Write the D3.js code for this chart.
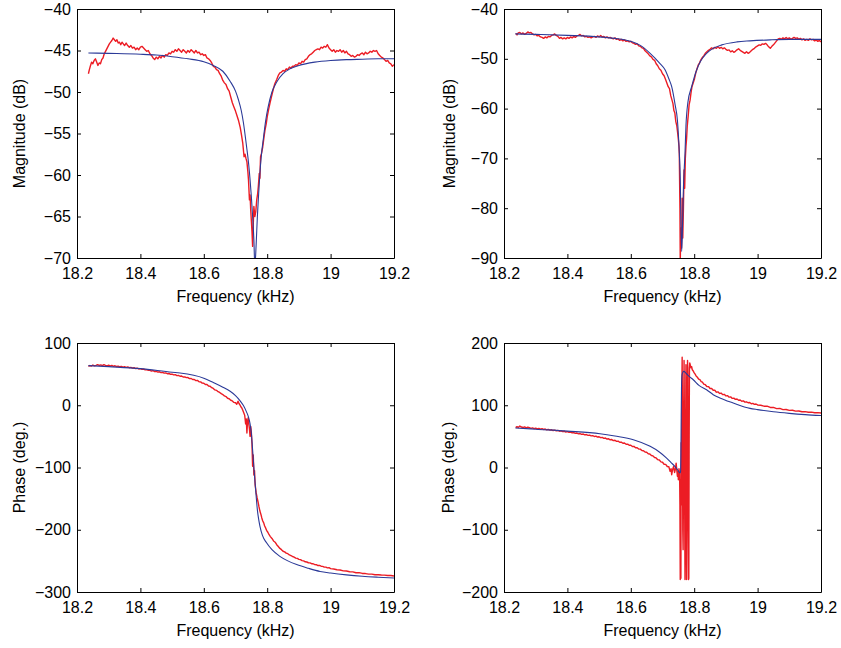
<!DOCTYPE html>
<html><head><meta charset="utf-8">
<script src="https://cdn.jsdelivr.net/npm/d3@7"></script>
<style>
body{margin:0;background:#fff}
svg text{font-family:"Liberation Sans",Arial,Helvetica,sans-serif;fill:#000}
</style>
</head><body>
<svg id="chart" width="841" height="648"></svg>
<script>
// ---------- data ----------
const freqTicks=[18.2,18.4,18.6,18.8,19,19.2];
const freqTickLabels=["18.2","18.4","18.6","18.8","19","19.2"];
const magTicksA=[-70,-65,-60,-55,-50,-45,-40];
const magTicksB=[-90,-80,-70,-60,-50,-40];
const phaseTicksA=[-300,-200,-100,0,100];
const phaseTicksB=[-200,-100,0,100,200];
const xLabel="Frequency (kHz)";
const magLabel="Magnitude (dB)";
const phaseLabel="Phase (deg.)";

// top-left: magnitude, measured (red) and fit (blue)
const mag1Measured=[[18.236,-47.8],[18.239,-47.3],[18.242,-46.9],[18.246,-46.4],[18.250,-46.6],[18.254,-46.2],[18.258,-46.0],[18.262,-46.4],[18.266,-46.8],[18.270,-46.5],[18.274,-46.6],[18.278,-46.1],[18.282,-45.9],[18.286,-45.4],[18.290,-45.1],[18.294,-44.8],[18.298,-44.5],[18.302,-44.2],[18.306,-44.0],[18.310,-43.8],[18.314,-43.5],[18.318,-43.7],[18.322,-43.9],[18.326,-43.7],[18.330,-44.1],[18.334,-44.0],[18.338,-44.3],[18.342,-44.0],[18.346,-44.2],[18.350,-44.4],[18.355,-44.1],[18.360,-44.4],[18.365,-44.6],[18.370,-44.4],[18.375,-44.7],[18.380,-44.6],[18.385,-44.9],[18.390,-44.7],[18.395,-44.9],[18.400,-44.6],[18.405,-44.5],[18.410,-44.7],[18.415,-44.9],[18.420,-45.1],[18.425,-45.0],[18.430,-45.4],[18.435,-45.6],[18.440,-45.9],[18.445,-46.1],[18.450,-45.8],[18.455,-46.0],[18.460,-45.7],[18.465,-45.9],[18.470,-45.6],[18.475,-45.8],[18.480,-45.5],[18.485,-45.6],[18.490,-45.3],[18.495,-45.4],[18.500,-45.1],[18.505,-45.2],[18.510,-44.9],[18.515,-45.1],[18.520,-44.8],[18.525,-45.0],[18.530,-45.2],[18.535,-44.9],[18.540,-45.1],[18.545,-45.3],[18.550,-45.0],[18.555,-45.2],[18.560,-44.9],[18.565,-45.1],[18.570,-45.3],[18.575,-45.0],[18.580,-45.3],[18.585,-45.2],[18.590,-45.5],[18.595,-45.4],[18.600,-45.6],[18.605,-45.5],[18.610,-45.9],[18.615,-46.0],[18.620,-46.2],[18.625,-46.5],[18.630,-46.9],[18.635,-47.0],[18.640,-47.3],[18.645,-47.4],[18.650,-47.8],[18.655,-48.1],[18.660,-48.6],[18.665,-48.9],[18.670,-49.1],[18.675,-49.6],[18.680,-49.9],[18.685,-50.6],[18.690,-51.3],[18.695,-51.8],[18.700,-52.3],[18.705,-52.9],[18.710,-53.5],[18.715,-54.3],[18.719,-55.2],[18.723,-56.2],[18.727,-57.8],[18.730,-57.5],[18.733,-58.0],[18.736,-58.4],[18.739,-59.6],[18.741,-60.6],[18.744,-63.0],[18.746,-62.4],[18.748,-64.2],[18.750,-65.5],[18.752,-66.8],[18.754,-68.6],[18.756,-66.0],[18.758,-63.8],[18.761,-65.0],[18.764,-64.4],[18.767,-63.0],[18.770,-62.2],[18.772,-61.4],[18.775,-59.8],[18.777,-60.4],[18.779,-57.8],[18.782,-57.4],[18.786,-56.6],[18.790,-55.4],[18.793,-54.6],[18.797,-53.8],[18.800,-53.0],[18.805,-52.0],[18.809,-51.3],[18.814,-50.5],[18.819,-49.7],[18.824,-49.0],[18.830,-48.5],[18.835,-48.0],[18.840,-47.7],[18.845,-47.6],[18.850,-47.4],[18.855,-47.5],[18.860,-47.2],[18.865,-47.3],[18.870,-47.0],[18.875,-47.1],[18.880,-46.9],[18.885,-46.9],[18.890,-46.7],[18.895,-46.8],[18.900,-46.5],[18.905,-46.6],[18.910,-46.3],[18.915,-46.4],[18.920,-46.1],[18.925,-46.0],[18.930,-45.7],[18.935,-45.5],[18.940,-45.4],[18.945,-45.2],[18.950,-45.0],[18.955,-44.9],[18.960,-44.8],[18.965,-44.9],[18.970,-44.6],[18.975,-44.7],[18.980,-44.5],[18.985,-44.6],[18.990,-44.3],[18.995,-44.7],[19.000,-44.9],[19.005,-45.1],[19.010,-44.9],[19.015,-45.2],[19.020,-45.0],[19.025,-45.1],[19.030,-44.9],[19.035,-45.2],[19.040,-45.0],[19.045,-45.3],[19.050,-45.1],[19.055,-45.4],[19.060,-45.5],[19.065,-45.7],[19.070,-45.6],[19.075,-45.8],[19.080,-45.7],[19.085,-45.5],[19.090,-45.6],[19.095,-45.4],[19.100,-45.3],[19.105,-45.5],[19.110,-45.2],[19.115,-45.4],[19.120,-45.3],[19.125,-45.1],[19.130,-45.2],[19.135,-45.0],[19.140,-45.1],[19.145,-45.0],[19.150,-45.4],[19.155,-45.6],[19.160,-45.8],[19.165,-45.9],[19.170,-46.1],[19.175,-46.3],[19.180,-46.2],[19.185,-46.5],[19.190,-46.6],[19.195,-46.9],[19.200,-46.7]];
const mag1Fit=[[18.236,-45.3],[18.3,-45.35],[18.4,-45.45],[18.45,-45.55],[18.5,-45.75],[18.55,-46.0],[18.6,-46.35],[18.63,-46.8],[18.66,-47.5],[18.683,-48.7],[18.70,-49.9],[18.709,-50.9],[18.718,-52.2],[18.725,-53.7],[18.735,-56.6],[18.741,-58.5],[18.746,-60.6],[18.750,-62.6],[18.754,-65.0],[18.758,-67.8],[18.761,-71.0],[18.765,-68.5],[18.769,-65.0],[18.773,-62.3],[18.777,-59.8],[18.782,-57.5],[18.788,-55.6],[18.795,-53.5],[18.803,-51.8],[18.815,-50.0],[18.830,-48.8],[18.850,-47.8],[18.872,-47.2],[18.9,-46.8],[18.95,-46.4],[19.0,-46.2],[19.05,-46.1],[19.1,-46.05],[19.15,-46.0],[19.2,-46.0]];

// top-right: magnitude
const mag2Measured=[[18.237,-44.9],[18.241,-45.2],[18.245,-44.8],[18.250,-44.7],[18.255,-45.0],[18.260,-44.8],[18.265,-45.1],[18.270,-44.9],[18.275,-44.6],[18.280,-44.8],[18.285,-44.7],[18.290,-45.0],[18.295,-45.2],[18.300,-45.1],[18.305,-45.4],[18.310,-45.3],[18.315,-45.6],[18.320,-45.7],[18.325,-45.9],[18.330,-45.6],[18.335,-45.8],[18.340,-45.5],[18.345,-45.6],[18.350,-45.3],[18.355,-45.2],[18.360,-45.0],[18.365,-45.3],[18.370,-45.5],[18.375,-45.9],[18.380,-45.7],[18.385,-46.0],[18.390,-45.8],[18.395,-46.0],[18.400,-45.7],[18.405,-45.9],[18.410,-45.6],[18.415,-45.8],[18.420,-45.5],[18.425,-45.7],[18.430,-45.4],[18.435,-45.3],[18.440,-45.1],[18.445,-45.4],[18.450,-45.3],[18.455,-45.6],[18.460,-45.5],[18.465,-45.7],[18.470,-45.6],[18.475,-45.8],[18.480,-45.6],[18.485,-45.5],[18.490,-45.7],[18.495,-45.4],[18.500,-45.6],[18.505,-45.3],[18.510,-45.6],[18.515,-45.5],[18.520,-45.8],[18.525,-45.6],[18.530,-45.8],[18.535,-45.7],[18.540,-45.9],[18.545,-46.0],[18.550,-45.8],[18.555,-46.1],[18.560,-46.0],[18.565,-46.3],[18.570,-46.1],[18.575,-46.4],[18.580,-46.2],[18.585,-46.5],[18.590,-46.4],[18.595,-46.6],[18.600,-46.5],[18.605,-46.8],[18.610,-46.9],[18.615,-47.1],[18.620,-47.0],[18.625,-47.4],[18.630,-47.5],[18.635,-47.8],[18.640,-47.9],[18.645,-48.4],[18.650,-48.7],[18.655,-49.0],[18.660,-49.4],[18.665,-49.6],[18.670,-50.1],[18.675,-50.3],[18.680,-51.0],[18.685,-51.4],[18.690,-52.0],[18.695,-52.3],[18.700,-53.0],[18.705,-53.4],[18.710,-54.2],[18.714,-54.9],[18.718,-55.6],[18.722,-56.0],[18.726,-57.4],[18.730,-58.3],[18.733,-59.0],[18.736,-60.4],[18.739,-60.9],[18.742,-62.6],[18.745,-63.4],[18.748,-65.0],[18.750,-66.2],[18.752,-67.6],[18.753,-69],[18.755,-80],[18.756,-90.5],[18.758,-84],[18.760,-88],[18.762,-78],[18.764,-86],[18.766,-80],[18.768,-72.3],[18.770,-76],[18.772,-70],[18.774,-67.6],[18.776,-66],[18.778,-63.6],[18.781,-61.5],[18.784,-59.2],[18.787,-58.3],[18.790,-56.8],[18.793,-55.6],[18.797,-54.8],[18.801,-54.0],[18.805,-52.8],[18.809,-52.0],[18.813,-51.2],[18.817,-50.8],[18.821,-50.2],[18.825,-49.8],[18.830,-49.4],[18.835,-48.9],[18.840,-48.6],[18.845,-48.3],[18.850,-48.1],[18.855,-47.8],[18.860,-48.0],[18.865,-47.7],[18.870,-47.9],[18.875,-47.6],[18.880,-47.9],[18.885,-47.7],[18.890,-48.0],[18.895,-47.8],[18.900,-48.1],[18.905,-48.3],[18.910,-48.2],[18.915,-48.6],[18.920,-48.4],[18.925,-48.7],[18.930,-48.5],[18.935,-48.2],[18.940,-48.0],[18.945,-48.3],[18.950,-48.5],[18.955,-48.7],[18.960,-48.9],[18.965,-48.6],[18.970,-48.9],[18.975,-48.7],[18.980,-48.4],[18.985,-48.1],[18.990,-47.9],[18.995,-47.6],[19.000,-47.4],[19.005,-47.2],[19.010,-47.3],[19.015,-47.0],[19.020,-47.1],[19.025,-46.9],[19.030,-47.2],[19.035,-47.6],[19.040,-47.9],[19.045,-47.5],[19.050,-47.2],[19.055,-46.8],[19.060,-46.4],[19.065,-46.0],[19.070,-45.9],[19.075,-46.1],[19.080,-45.8],[19.085,-46.0],[19.090,-45.7],[19.095,-46.0],[19.100,-45.8],[19.105,-46.1],[19.110,-45.9],[19.115,-45.7],[19.120,-45.9],[19.125,-45.8],[19.130,-46.1],[19.135,-45.9],[19.140,-46.2],[19.145,-46.0],[19.150,-46.3],[19.155,-46.1],[19.160,-46.3],[19.165,-46.0],[19.170,-46.2],[19.175,-46.1],[19.180,-46.4],[19.185,-46.2],[19.190,-46.5],[19.195,-46.3],[19.200,-46.6]];
const mag2Fit=[[18.236,-45.0],[18.3,-45.1],[18.4,-45.3],[18.5,-45.6],[18.55,-45.9],[18.6,-46.5],[18.63,-47.3],[18.661,-48.9],[18.69,-50.8],[18.708,-52.2],[18.72,-54],[18.729,-55.6],[18.74,-59.3],[18.747,-62.3],[18.753,-68.9],[18.756,-74],[18.758,-82.3],[18.7605,-88.7],[18.763,-84],[18.766,-76],[18.771,-68.9],[18.774,-63.5],[18.78,-58.8],[18.792,-55.6],[18.808,-52.2],[18.82,-50.5],[18.839,-48.9],[18.86,-47.9],[18.887,-47.2],[18.935,-46.6],[18.976,-46.4],[19.04,-46.2],[19.1,-46.1],[19.2,-46.1]];

// bottom-left: phase
const phase1Measured=[[18.236,62.5],[18.240,63.8],[18.245,62.9],[18.250,64.6],[18.255,63.2],[18.260,64.0],[18.265,65.3],[18.270,63.9],[18.275,64.8],[18.280,63.6],[18.285,65.2],[18.290,64.1],[18.295,63.3],[18.300,64.4],[18.305,63.0],[18.310,63.9],[18.315,62.6],[18.320,63.4],[18.325,62.2],[18.330,62.9],[18.335,61.8],[18.340,62.4],[18.345,61.3],[18.350,61.9],[18.355,60.8],[18.360,61.5],[18.365,60.3],[18.370,60.9],[18.375,59.7],[18.380,60.3],[18.385,59.0],[18.390,59.5],[18.395,58.3],[18.400,58.9],[18.405,57.6],[18.410,58.0],[18.415,56.8],[18.420,57.3],[18.425,56.0],[18.430,56.2],[18.435,55.0],[18.440,55.6],[18.445,54.1],[18.450,54.6],[18.455,53.2],[18.460,53.8],[18.465,52.5],[18.470,52.9],[18.475,51.6],[18.480,52.0],[18.485,50.6],[18.490,51.1],[18.495,49.7],[18.500,50.0],[18.505,48.8],[18.510,49.1],[18.515,47.6],[18.520,48.0],[18.525,46.6],[18.530,46.9],[18.535,45.4],[18.540,45.6],[18.545,44.3],[18.550,44.5],[18.555,42.8],[18.560,43.0],[18.565,41.3],[18.570,41.4],[18.575,39.6],[18.580,39.9],[18.585,37.8],[18.590,37.5],[18.595,35.6],[18.600,35.4],[18.605,33.3],[18.610,33.5],[18.615,31.0],[18.620,30.6],[18.625,28.2],[18.630,27.0],[18.635,24.6],[18.640,24.0],[18.645,21.8],[18.650,20.6],[18.655,18.6],[18.660,17.2],[18.665,15.0],[18.670,14.0],[18.675,11.2],[18.680,10.4],[18.685,8.0],[18.690,7.0],[18.695,4.6],[18.700,4.0],[18.704,1.5],[18.708,6.4],[18.711,2.8],[18.714,0.5],[18.717,-2.5],[18.720,-4.4],[18.723,-8],[18.726,-12],[18.729,-16],[18.732,-30],[18.734,-22],[18.736,-44.6],[18.738,-26],[18.740,-20],[18.742,-30],[18.744,-38],[18.746,-50],[18.748,-34],[18.750,-44],[18.752,-62],[18.754,-98],[18.756,-80],[18.758,-112],[18.760,-105],[18.762,-128],[18.765,-140],[18.768,-148],[18.771,-155],[18.774,-163],[18.777,-170],[18.780,-175],[18.783,-181],[18.786,-186],[18.789,-189],[18.792,-194],[18.795,-197],[18.798,-201],[18.802,-204],[18.806,-208],[18.810,-211],[18.815,-214],[18.820,-218],[18.825,-220],[18.830,-224],[18.835,-227],[18.840,-230],[18.845,-232],[18.850,-234.5],[18.855,-235.5],[18.860,-237.5],[18.865,-238.5],[18.870,-240.5],[18.875,-241.5],[18.880,-243],[18.885,-244],[18.890,-245.5],[18.895,-246],[18.900,-247.5],[18.905,-248],[18.910,-249.5],[18.915,-250],[18.920,-251.5],[18.925,-251.8],[18.930,-253],[18.935,-253.2],[18.940,-254.5],[18.945,-254.6],[18.950,-256],[18.955,-256.2],[18.960,-257.5],[18.965,-257.4],[18.970,-258.6],[18.975,-258.8],[18.980,-260],[18.985,-260],[18.990,-261.2],[18.995,-261],[19.000,-262.5],[19.010,-263],[19.020,-264.2],[19.030,-264.6],[19.040,-266],[19.050,-266.2],[19.060,-267.5],[19.070,-267.6],[19.080,-269],[19.090,-268.8],[19.100,-270.2],[19.110,-270.4],[19.120,-271.3],[19.130,-271.3],[19.140,-272.2],[19.150,-272.2],[19.160,-272.8],[19.170,-272.9],[19.180,-273.6],[19.190,-273.5],[19.200,-274.2]];
const phase1Fit=[[18.236,63.7],[18.3,62],[18.4,58.9],[18.5,53],[18.525,51.8],[18.6,43.5],[18.63,36.5],[18.66,29],[18.683,22.4],[18.70,15.5],[18.714,7.5],[18.725,-0.5],[18.735,-11],[18.741,-19],[18.746,-30],[18.750,-45],[18.754,-72],[18.758,-100],[18.761,-119.6],[18.765,-145],[18.769,-168],[18.773,-183],[18.777,-194],[18.785,-209],[18.798,-221],[18.815,-232],[18.84,-242.7],[18.865,-250],[18.893,-256],[18.93,-262],[18.967,-267],[19.0,-269.5],[19.05,-272.5],[19.1,-274.7],[19.15,-276.2],[19.2,-277.4]];

// bottom-right: phase
const phase2Measured=[[18.237,64.0],[18.241,65.6],[18.245,64.4],[18.250,66.6],[18.255,65.0],[18.260,64.2],[18.265,65.3],[18.270,63.6],[18.275,64.8],[18.280,63.9],[18.285,62.8],[18.290,63.6],[18.295,62.4],[18.300,63.3],[18.305,62.0],[18.310,62.8],[18.315,61.5],[18.320,62.4],[18.325,61.1],[18.330,61.8],[18.335,60.6],[18.340,61.3],[18.345,60.0],[18.350,60.6],[18.355,59.4],[18.360,60.1],[18.365,58.8],[18.370,59.5],[18.375,58.3],[18.380,58.9],[18.385,57.7],[18.390,58.3],[18.395,57.0],[18.400,57.6],[18.405,56.4],[18.410,56.9],[18.415,55.6],[18.420,56.2],[18.425,54.9],[18.430,55.4],[18.435,54.1],[18.440,54.6],[18.445,53.3],[18.450,53.8],[18.455,52.5],[18.460,53.0],[18.465,51.6],[18.470,52.1],[18.475,50.8],[18.480,51.2],[18.485,49.8],[18.490,50.3],[18.495,48.9],[18.500,49.4],[18.505,47.9],[18.510,48.3],[18.515,46.8],[18.520,47.3],[18.525,45.7],[18.530,46.1],[18.535,44.5],[18.540,44.9],[18.545,43.2],[18.550,43.7],[18.555,41.9],[18.560,42.3],[18.565,40.6],[18.570,40.8],[18.575,39.0],[18.580,39.3],[18.585,37.4],[18.590,37.6],[18.595,35.7],[18.600,35.8],[18.605,33.8],[18.610,33.9],[18.615,31.8],[18.620,31.8],[18.625,29.6],[18.630,29.5],[18.635,27.3],[18.640,27.0],[18.645,24.8],[18.650,24.4],[18.655,22.1],[18.660,21.6],[18.665,19.2],[18.670,18.6],[18.675,16.0],[18.680,15.4],[18.685,12.6],[18.690,12.0],[18.695,9.0],[18.700,8.5],[18.705,5.2],[18.710,5.0],[18.715,1.6],[18.720,1.2],[18.724,-6.2],[18.727,-2],[18.729,-11.6],[18.732,-3],[18.735,1.8],[18.738,-8],[18.741,-2],[18.743,7],[18.745,-4],[18.747,-14],[18.749,-6],[18.750,-19.6],[18.752,-2],[18.754,-10],[18.755,-60],[18.756,-180],[18.757,-20],[18.758,-178],[18.759,40],[18.760,-60],[18.761,120],[18.762,177],[18.763,60],[18.764,-100],[18.765,-132],[18.766,-40],[18.767,100],[18.768,172],[18.769,80],[18.770,-60],[18.771,-180],[18.772,-120],[18.773,60],[18.774,165],[18.775,20],[18.776,-180],[18.777,-90],[18.778,100],[18.779,172],[18.780,150],[18.781,-60],[18.782,-180],[18.783,-178],[18.784,30],[18.785,160],[18.786,168],[18.788,164],[18.790,160],[18.792,162],[18.794,157],[18.797,155],[18.800,152],[18.803,150],[18.806,147],[18.810,145],[18.814,142],[18.818,141],[18.822,138],[18.826,137],[18.830,134],[18.835,133],[18.840,130],[18.845,130],[18.850,127],[18.855,127],[18.860,124],[18.865,124],[18.870,121],[18.875,121.5],[18.880,119],[18.885,119.5],[18.890,117],[18.895,117.5],[18.900,115],[18.905,115.5],[18.910,113],[18.915,113.5],[18.920,111],[18.925,111.5],[18.930,109.5],[18.935,110],[18.940,108],[18.945,108.5],[18.950,106.5],[18.955,107],[18.960,105],[18.965,105.5],[18.970,104],[18.975,104.5],[18.980,102.5],[18.985,103],[18.990,101.5],[18.995,102],[19.000,100.5],[19.010,100],[19.020,98.5],[19.030,98.5],[19.040,96.5],[19.050,96.5],[19.060,94.5],[19.070,95],[19.080,93],[19.090,93.2],[19.100,91.8],[19.110,92],[19.120,90.6],[19.130,90.8],[19.140,89.6],[19.150,89.8],[19.160,88.7],[19.170,89],[19.180,88],[19.190,88.2],[19.200,87.5]];
const phase2Fit=[[18.236,63.5],[18.3,61.5],[18.4,58.5],[18.503,54.3],[18.55,50.5],[18.608,44.6],[18.661,34],[18.69,25],[18.713,15.2],[18.727,8],[18.739,1.8],[18.748,-4],[18.755,-8.9],[18.757,-7],[18.758,20],[18.759,80],[18.760,130],[18.762,150],[18.767,154.4],[18.775,151],[18.785,146],[18.797,141],[18.815,132],[18.839,125],[18.86,117],[18.881,111.6],[18.923,103.6],[18.976,95],[19.0,93],[19.05,89.5],[19.1,87],[19.15,85],[19.2,83.5]];

// ---------- drawing ----------
const svg=d3.select("#chart");
svg.append("rect").attr("width",841).attr("height",648).attr("fill","#fff");

const panels=[
 {box:[77,394,9,258], yDomain:[-70,-40], yTicks:magTicksA, yLabel:magLabel, yLabelX:25, measured:mag1Measured, fit:mag1Fit},
 {box:[504,821,9,258], yDomain:[-90,-40], yTicks:magTicksB, yLabel:magLabel, yLabelX:455, measured:mag2Measured, fit:mag2Fit},
 {box:[77,394,343,592], yDomain:[-300,100], yTicks:phaseTicksA, yLabel:phaseLabel, yLabelX:25, measured:phase1Measured, fit:phase1Fit},
 {box:[504,821,343,592], yDomain:[-200,200], yTicks:phaseTicksB, yLabel:phaseLabel, yLabelX:454, measured:phase2Measured, fit:phase2Fit}
];

const fmt=d=>d<0?"\u2212"+Math.abs(d):String(d);
const FS=16;

panels.forEach((p,i)=>{
  const [L,R,T,B]=p.box;
  const x=d3.scaleLinear().domain([18.2,19.2]).range([L,R]);
  const y=d3.scaleLinear().domain(p.yDomain).range([B,T]);
  const g=svg.append("g");
  const cid="clip"+i;
  svg.append("clipPath").attr("id",cid).append("rect")
    .attr("x",L).attr("y",T).attr("width",R-L).attr("height",B-T);

  const lineG=g.append("g").attr("clip-path",`url(#${cid})`);
  lineG.append("path").datum(p.measured)
    .attr("d",d3.line().x(d=>x(d[0])).y(d=>y(d[1])))
    .attr("fill","none").attr("stroke","#ec1c24").attr("stroke-width",1.4).attr("stroke-linejoin","round");
  lineG.append("path").datum(p.fit)
    .attr("d",d3.line().x(d=>x(d[0])).y(d=>y(d[1])).curve(d3.curveMonotoneX))
    .attr("fill","none").attr("stroke","#2b3a98").attr("stroke-width",1.1);

  const ax=(gen,tr)=>{
    const a=g.append("g").attr("transform",tr).call(gen);
    a.select(".domain").attr("stroke","#000").attr("stroke-width",1);
    a.selectAll(".tick line").attr("stroke","#000");
    a.selectAll("text").attr("font-size",FS).attr("fill","#000")
      .attr("font-family","'Liberation Sans',Arial,Helvetica,sans-serif");
    return a;
  };
  ax(d3.axisBottom(x).tickValues(freqTicks).tickFormat((d,k)=>freqTickLabels[k]).tickSizeInner(-4).tickSizeOuter(0).tickPadding(9.5),`translate(0,${B})`);
  ax(d3.axisTop(x).tickValues(freqTicks).tickFormat("").tickSizeInner(-4).tickSizeOuter(0),`translate(0,${T})`);
  ax(d3.axisLeft(y).tickValues(p.yTicks).tickFormat(fmt).tickSizeInner(-4).tickSizeOuter(0).tickPadding(6),`translate(${L},0)`);
  ax(d3.axisRight(y).tickValues(p.yTicks).tickFormat("").tickSizeInner(-4).tickSizeOuter(0),`translate(${R},0)`);

  g.append("text").attr("x",(L+R)/2).attr("y",B+44).attr("text-anchor","middle")
    .attr("font-size",FS).text(xLabel);
  g.append("text").attr("transform",`translate(${p.yLabelX},${(T+B)/2}) rotate(-90)`)
    .attr("text-anchor","middle").attr("font-size",FS).text(p.yLabel);
});
</script>
</body></html>
